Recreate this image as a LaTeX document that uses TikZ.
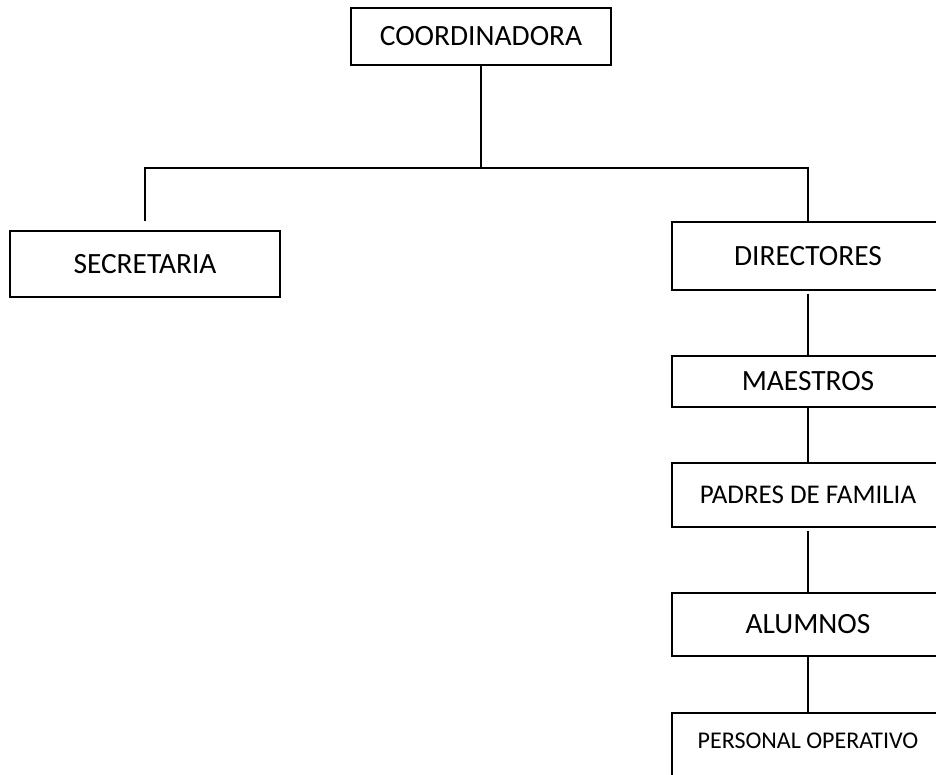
\documentclass[tikz,border=0pt]{standalone}
\usepackage{fontspec}
\setmainfont{Carlito}
\usetikzlibrary{positioning}

\begin{document}
\begin{tikzpicture}[x=1pt, y=-1pt, line width=1.9pt,
    cargo/.style={draw, rectangle, inner sep=0pt, minimum width=272pt, font=\fontsize{29.4}{33}\selectfont},
    chico/.style={font=\fontsize{27}{31}\selectfont}]
    \useasboundingbox (0,0) rectangle (936,774);
    \clip (0,0) rectangle (936,774);

    % Top
    \node[cargo, minimum width=260pt, minimum height=57pt] (coord) at (481,36.5) {COORDINADORA};
    \coordinate (bar) at (481,168);

    % Left branch
    \node[cargo, minimum width=270pt, minimum height=66pt] (secre) at (145,264) {SECRETARIA};

    % Right branch
    \node[cargo, minimum height=68pt] (dir) at (808,256) {DIRECTORES};
    \node[cargo, minimum height=51pt] (maes) at (808,381.5) {MAESTROS};
    \node[cargo, chico, minimum height=64pt] (padres) at (808,495) {PADRES DE FAMILIA};
    \node[cargo, minimum height=63pt] (alum) at (808,624.5) {ALUMNOS};
    \node[cargo, font=\fontsize{24}{28}\selectfont, anchor=north, text height=36pt, text depth=50pt] (pers) at (808,712) {PERSONAL OPERATIVO};

    \draw (coord.south) -- (bar);
    \draw ([yshift=9pt]secre.north) |- (bar) -| (dir.north);
    \draw[shorten <=3pt] (dir) -- (maes);
    \draw (maes) -- (padres);
    \draw[shorten <=3pt] (padres) -- (alum);
    \draw (alum) -- (pers);
\end{tikzpicture}
\end{document}
